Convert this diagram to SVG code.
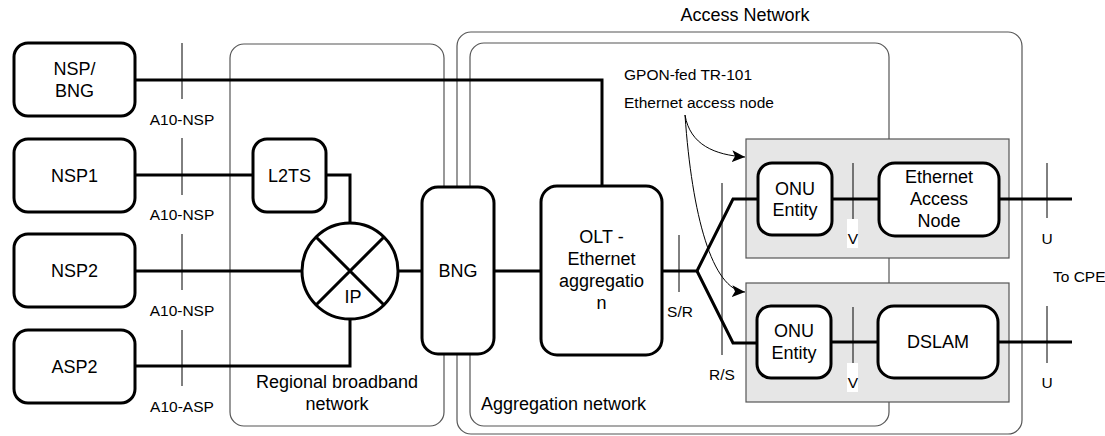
<svg xmlns="http://www.w3.org/2000/svg" width="1105" height="436" viewBox="0 0 1105 436">
<defs>
<style>
text{font-family:"Liberation Sans",Arial,sans-serif;fill:#000}
.big{font-size:18px}
.sm{font-size:15.5px}
.mid{text-anchor:middle}
.node{fill:#fff;stroke:#000;stroke-width:3}
.cont{fill:none;stroke:#555;stroke-width:1.2}
.grey{fill:#e6e6e6;stroke:#555;stroke-width:1.2}
.wire{fill:none;stroke:#000;stroke-width:3}
.div{fill:none;stroke:#000;stroke-width:1}
.arr{fill:none;stroke:#000;stroke-width:1}
</style>
<marker id="ah" viewBox="0 0 13 12" refX="13" refY="6" markerWidth="13" markerHeight="12" markerUnits="userSpaceOnUse" orient="auto">
<path d="M0,0 L13,6 L0,12 L3,6 z" fill="#000"/>
</marker>
</defs>
<rect width="1105" height="436" fill="#fff"/>

<g id="containers">
<rect id="regional" class="cont" x="230" y="44" width="214" height="382" rx="14"/>
<rect id="access" class="cont" x="457" y="32" width="565" height="402" rx="14"/>
<rect id="aggregation" class="cont" x="470" y="43" width="419" height="383" rx="14"/>
<text class="big mid" x="745" y="21">Access Network</text>
<text class="big mid" x="337" y="388">Regional broadband</text>
<text class="big mid" x="337" y="410">network</text>
<text class="big" x="481" y="410">Aggregation network</text>
</g>

<g id="ean-group">
<rect class="grey" x="746" y="139" width="263" height="119"/>
</g>
<g id="dslam-group">
<rect class="grey" x="746" y="283" width="263" height="119"/>
</g>

<g id="connectors">
<path class="wire" d="M135,80 H602 V186"/>
<path class="wire" d="M135,175 H253"/>
<path class="wire" d="M326,175 H350 V223"/>
<path class="wire" d="M135,271 H302"/>
<path class="wire" d="M135,366 H350 V319"/>
<path class="wire" d="M398,271 H422"/>
<path class="wire" d="M494,271 H541"/>
<path class="wire" d="M662,271 H697 L733,199 H758"/>
<path class="wire" d="M697,271 L733,343 H757"/>
<path class="wire" d="M832,199 H879"/>
<path class="wire" d="M999,199 H1072"/>
<path class="wire" d="M831,342 H878"/>
<path class="wire" d="M998,342 H1072"/>
<path class="arr" d="M685,115 C690,145 715,155 745,157" marker-end="url(#ah)"/>
<path class="arr" d="M685,115 C692,215 712,290 745,292" marker-end="url(#ah)"/>
</g>

<g id="interfaces">
<path class="div" d="M182,43 V99 M182,138 V195 M182,234 V290 M182,330 V386"/>
<text class="sm mid" x="182" y="125">A10-NSP</text>
<text class="sm mid" x="182" y="220">A10-NSP</text>
<text class="sm mid" x="182" y="316">A10-NSP</text>
<text class="sm mid" x="182" y="412">A10-ASP</text>
<path class="div" d="M679,235 V292"/>
<text class="sm mid" x="680" y="317">S/R</text>
<path class="div" d="M722,183 V355"/>
<text class="sm mid" x="722" y="380">R/S</text>
<path class="div" d="M853,163 V219 M853,307 V363"/>
<rect x="847" y="219" width="11" height="29" fill="#fff"/>
<rect x="847" y="363" width="11" height="29" fill="#fff"/>
<text class="sm mid" x="853" y="244">V</text>
<text class="sm mid" x="853" y="388">V</text>
<path class="div" d="M1047,163 V218 M1047,306 V363"/>
<text class="sm mid" x="1047" y="244">U</text>
<text class="sm mid" x="1047" y="388">U</text>
<text class="sm" x="1053" y="282">To CPE</text>
<text class="sm" x="624" y="80">GPON-fed TR-101</text>
<text class="sm" x="624" y="108">Ethernet access node</text>
</g>

<g id="nsp-bng">
<rect class="node" x="14" y="43" width="121" height="73" rx="14"/>
<text class="big mid" x="74.5" y="75">NSP/</text>
<text class="big mid" x="74.5" y="97">BNG</text>
</g>
<g id="nsp1">
<rect class="node" x="14" y="139" width="121" height="73" rx="14"/>
<text class="big mid" x="74.5" y="182">NSP1</text>
</g>
<g id="nsp2">
<rect class="node" x="14" y="234" width="121" height="73" rx="14"/>
<text class="big mid" x="74.5" y="277">NSP2</text>
</g>
<g id="asp2">
<rect class="node" x="14" y="330" width="121" height="73" rx="14"/>
<text class="big mid" x="74.5" y="373">ASP2</text>
</g>
<g id="l2ts">
<rect class="node" x="253" y="139" width="73" height="73" rx="14"/>
<text class="big mid" x="289.5" y="182">L2TS</text>
</g>
<g id="ip">
<circle class="node" cx="350" cy="271" r="48"/>
<path class="wire" d="M316,237 L384,305 M384,237 L316,305"/>
<text class="big mid" x="353" y="303">IP</text>
</g>
<g id="bng">
<rect class="node" x="422" y="187" width="72" height="167" rx="16"/>
<text class="big mid" x="458" y="277">BNG</text>
</g>
<g id="olt">
<rect class="node" x="541" y="186" width="121" height="169" rx="16"/>
<text class="big mid" x="601.5" y="243">OLT -</text>
<text class="big mid" x="601.5" y="265">Ethernet</text>
<text class="big mid" x="601.5" y="287">aggregatio</text>
<text class="big mid" x="601.5" y="309">n</text>
</g>
<g id="onu1">
<rect class="node" x="758" y="163" width="74" height="72" rx="14"/>
<text class="big mid" x="795" y="195">ONU</text>
<text class="big mid" x="795" y="216">Entity</text>
</g>
<g id="ethernet-access-node">
<rect class="node" x="879" y="163" width="120" height="73" rx="16"/>
<text class="big mid" x="939" y="183">Ethernet</text>
<text class="big mid" x="939" y="205">Access</text>
<text class="big mid" x="939" y="227">Node</text>
</g>
<g id="onu2">
<rect class="node" x="757" y="306" width="74" height="72" rx="14"/>
<text class="big mid" x="794" y="337">ONU</text>
<text class="big mid" x="794" y="359">Entity</text>
</g>
<g id="dslam">
<rect class="node" x="878" y="306" width="120" height="72" rx="16"/>
<text class="big mid" x="938" y="348">DSLAM</text>
</g>
</svg>
